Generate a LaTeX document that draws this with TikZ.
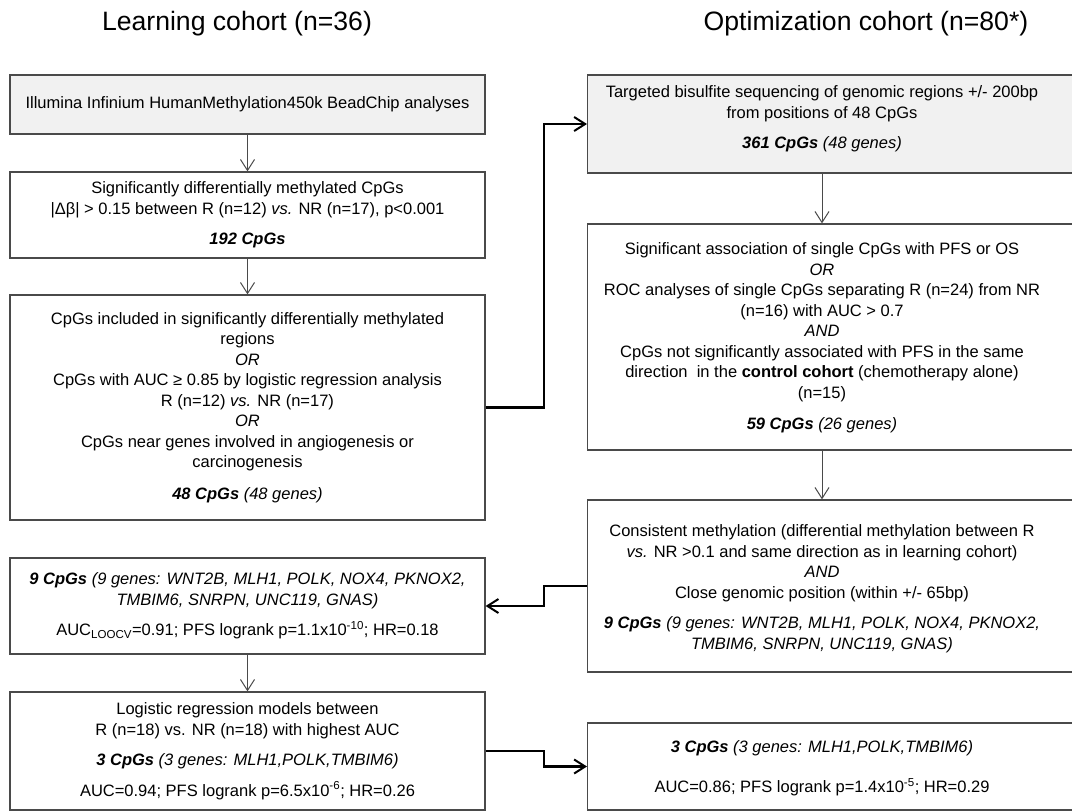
\documentclass[tikz,border=0pt]{standalone}
\usepackage{fontspec}
\setmainfont{Liberation Sans}
\usetikzlibrary{arrows.meta}
\definecolor{boxline}{HTML}{4A4A4A}
\definecolor{boxfill}{HTML}{F1F1F1}
\begin{document}
\begin{tikzpicture}[x=1pt,y=-1pt,
  every node/.style={font=\fontsize{16.5}{20.5}\selectfont, inner sep=0pt},
  lbox/.style={draw=boxline, line width=1.2pt, minimum width=475pt, align=center},
  rbox/.style={draw=boxline, line width=1.2pt, minimum width=500pt, anchor=west},
  txt/.style={align=center},
  shaded/.style={fill=boxfill},
  title/.style={font=\fontsize{26.6}{30}\selectfont},
  varrow/.style={draw=boxline, line width=1pt, -{Straight Barb[length=11pt,width=14pt,line width=1pt]}},
  earrow/.style={draw=black, line width=2.2pt, -{Straight Barb[length=11pt,width=14pt,line width=2pt]}},
  eline/.style={draw=black, line width=2.2pt}
]
\path[fill=white] (0,0) rectangle (1072,812);
\useasboundingbox (0,0) rectangle (1072,812);

% titles
\node[title] (t1) at (237,24) {Learning cohort (n=36)};
\node[title] (t2) at (866,24) {Optimization cohort (n=80*)};

% left column
\node[lbox, shaded, minimum height=59pt] (b1) at (247.5,104.5)
  {Illumina Infinium HumanMethylation450k BeadChip analyses};
\node[lbox, minimum height=86pt] (b2) at (247.5,215)
  {Significantly differentially methylated CpGs\\
   |Δβ| > 0.15 between R (n=12) \textit{vs.} NR (n=17), p<0.001\\[10pt]
   \textbf{\textit{192 CpGs}}};
\node[lbox, minimum height=225pt] (b3) at (247.5,407.5)
  {CpGs included in significantly differentially methylated\\
   regions\\
   \textit{OR}\\
   CpGs with AUC ≥ 0.85 by logistic regression analysis\\
   R (n=12) \textit{vs.} NR (n=17)\\
   \textit{OR}\\
   CpGs near genes involved in angiogenesis or\\
   carcinogenesis\\[11pt]
   \textbf{\textit{48 CpGs}} \textit{(48 genes)}};
\node[lbox, minimum height=96pt] (b4) at (247.5,606)
  {\textbf{\textit{9 CpGs}} \textit{(9 genes: WNT2B, MLH1, POLK, NOX4, PKNOX2,}\\
   \textit{TMBIM6, SNRPN, UNC119, GNAS)}\\[10pt]
   AUC\textsubscript{LOOCV}=0.91; PFS logrank p=1.1x10\textsuperscript{-10}; HR=0.18};
\node[lbox, minimum height=118pt] (b5) at (247.5,751)
  {Logistic regression models between\\
   R (n=18) vs. NR (n=18) with highest AUC\\[10pt]
   \textbf{\textit{3 CpGs}} \textit{(3 genes: MLH1,POLK,TMBIM6)}\\[10pt]
   AUC=0.94; PFS logrank p=6.5x10\textsuperscript{-6}; HR=0.26};

% right column boxes
\node[rbox, shaded, minimum height=98pt] (r1box) at (587,124) {};
\node[rbox, minimum height=226pt] (r2box) at (587,337) {};
\node[rbox, minimum height=172pt] (r3box) at (587,586) {};
\node[rbox, minimum height=87pt] (r4box) at (587,766.5) {};

% right column texts
\node[txt] (r1) at (822,119)
  {Targeted bisulfite sequencing of genomic regions +/- 200bp\\
   from positions of 48 CpGs\\[10pt]
   \textbf{\textit{361 CpGs}} \textit{(48 genes)}};
\node[txt] (r2) at (822,338)
  {Significant association of single CpGs with PFS or OS\\
   \textit{OR}\\
   ROC analyses of single CpGs separating R (n=24) from NR\\
   (n=16) with AUC > 0.7\\
   \textit{AND}\\
   CpGs not significantly associated with PFS in the same\\
   direction~ in the \textbf{control cohort} (chemotherapy alone)\\
   (n=15)\\[11pt]
   \textbf{\textit{59 CpGs}} \textit{(26 genes)}};
\node[txt] (r3) at (822,588.5)
  {Consistent methylation (differential methylation between R\\
   \textit{vs.} NR >0.1 and same direction as in learning cohort)\\
   \textit{AND}\\
   Close genomic position (within +/- 65bp)\\[10pt]
   \textbf{\textit{9 CpGs}} \textit{(9 genes: WNT2B, MLH1, POLK, NOX4, PKNOX2,}\\
   \textit{TMBIM6, SNRPN, UNC119, GNAS)}};
\node[txt] (r4) at (822,768)
  {\textbf{\textit{3 CpGs}} \textit{(3 genes: MLH1,POLK,TMBIM6)}\\[19.5pt]
   AUC=0.86; PFS logrank p=1.4x10\textsuperscript{-5}; HR=0.29};

% junction column
\coordinate (jx) at (544,0);

% vertical arrows
\draw[varrow] (b1) -- (b2);
\draw[varrow] (b2) -- (b3);
\draw[varrow] (b4) -- (b5);
\draw[varrow] (r1box.south -| r1) -- (r2box.north -| r1);
\draw[varrow] (r2box.south -| r1) -- (r3box.north -| r1);

% elbow connectors
\draw[earrow] (b3.east) -- (b3.east -| jx) |- (r1box.west);
\draw[earrow] (r3box.west) -- (r3box.west -| jx) |- (b4.east);
\draw[earrow] (b5.east) -- (b5.east -| jx) |- (r4box.west);
\end{tikzpicture}
\end{document}
